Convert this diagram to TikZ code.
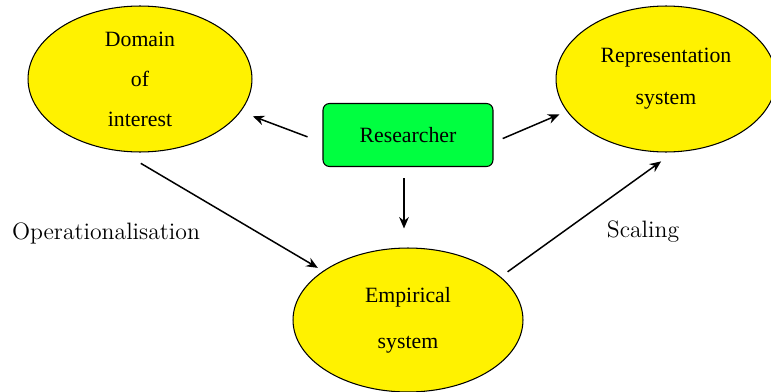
\documentclass[tikz,border=0pt]{standalone}
\usepackage[]{fontspec}
\usepackage[]{tikz}
\usepackage[]{xcolor}
\usetikzlibrary{arrows.meta}
\usetikzlibrary{shapes.geometric}
\newfontfamily\nodefont{Liberation Serif}
\definecolor{resgreen}{RGB}{0,255,64}
\tikzset{sys/.style = {ellipse, draw, fill=yellow, line width=0.6pt, inner sep=0, align=center, font=\nodefont\fontsize{12.4}{15}\selectfont}}
\tikzset{res/.style = {rectangle, rounded corners=0.13cm, draw, fill=resgreen, line width=0.6pt, minimum width=3.4cm, minimum height=1.26cm, font=\nodefont\fontsize{12.4}{15}\selectfont}}
\tikzset{arr/.style = {-{Stealth[length=6.5pt,width=5.5pt]}, line width=0.85pt}}
\tikzset{lab/.style = {font=\fontsize{13.5}{15}\selectfont}}

\begin{document}
\begin{tikzpicture}[x=0.02cm, y=-0.02cm]
            \useasboundingbox (0,0) rectangle (771,392);
            \clip (0,0) rectangle (771,392);
            \node [sys, minimum width=4.48cm, minimum height=2.92cm] (dom) at (140,79) {Domain\\[7.8pt]of\\[7.8pt]interest};
            \node [sys, minimum width=4.4cm, minimum height=2.92cm] (rep) at (666,79) {Representation\\[8.9pt]system};
            \node [sys, minimum width=4.6cm, minimum height=2.88cm] (emp) at (408,320) {Empirical\\[11.2pt]system};
            \node [res] (re) at (408,135) {Researcher};
            \node [lab] (op) at (106,233) {Operationalisation};
            \node [lab] (sc) at (643,232) {Scaling};
            \draw [arr, shorten <=0.32cm, shorten >=0.26cm] (re.-175) -- (dom.-18);
            \draw [arr, shorten <=0.2cm, shorten >=0.16cm] (re.-5) -- (rep.-162);
            \draw [arr, shorten <=0.22cm, shorten >=0.38cm] ([xshift=-0.08cm]re.south) -- ([xshift=-0.08cm]emp.north);
            \draw [arr, shorten <=0.47cm, shorten >=0.12cm] (dom.-105) -- (emp.150);
            \draw [arr, shorten <=0.17cm, shorten >=0.31cm] (emp.25) -- (rep.-84);
        \end{tikzpicture}
\end{document}
